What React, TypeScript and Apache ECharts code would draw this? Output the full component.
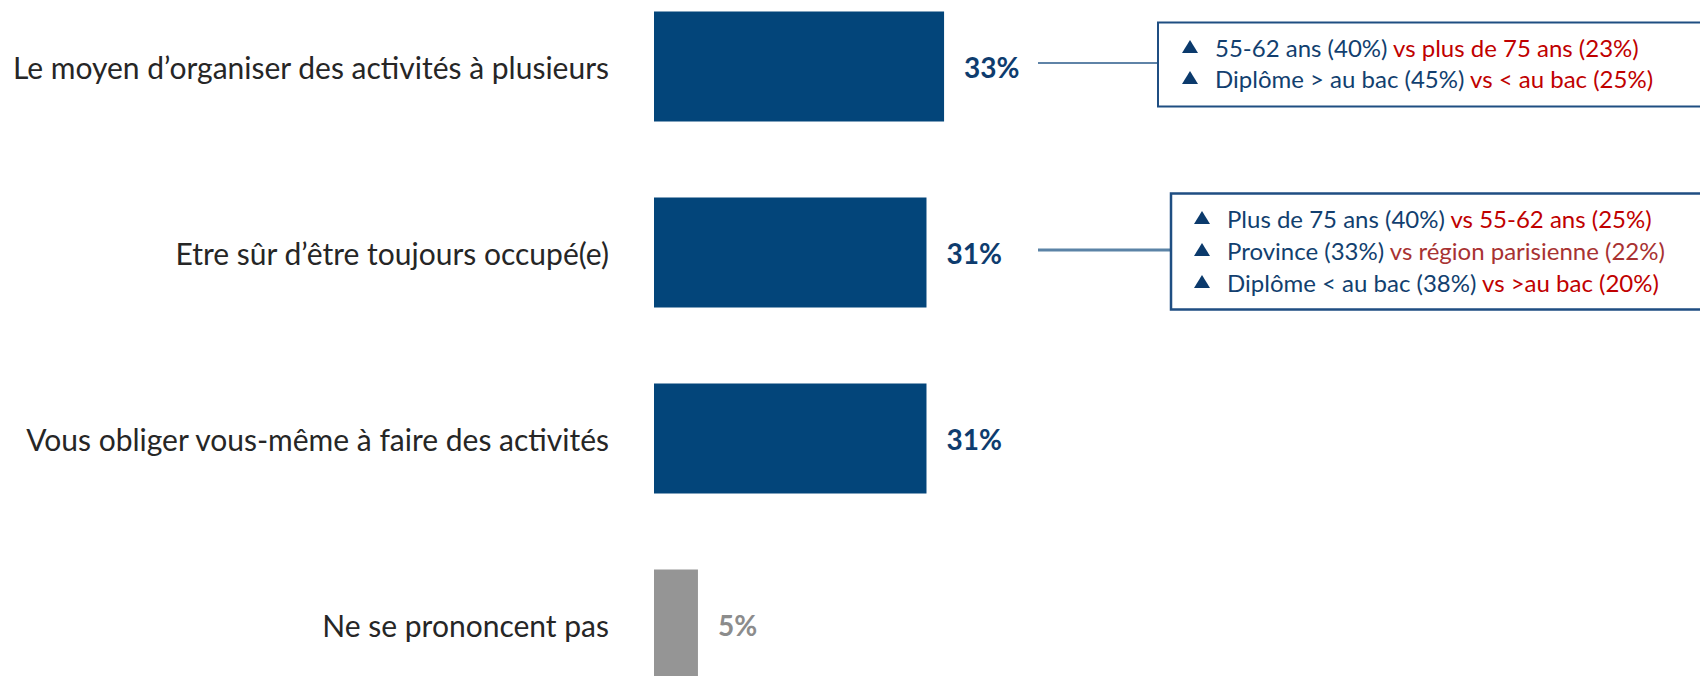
import React, { useEffect, useRef } from "react";
import * as echarts from "echarts";

const categories = [
  "Le moyen d’organiser des activités à plusieurs",
  "Etre sûr d’être toujours occupé(e)",
  "Vous obliger vous-même à faire des activités",
  "Ne se prononcent pas",
];
const values = [33, 31, 31, 5];
const isNsp = [false, false, false, true];

const callout1 = [
  { n: "55-62 ans (40%)", r: "vs plus de 75 ans (23%)", rs: "r" },
  { n: "Diplôme > au bac (45%)", r: "vs < au bac (25%)", rs: "r" },
];
const callout2 = [
  { n: "Plus de 75 ans (40%)", r: "vs 55-62 ans (25%)", rs: "r" },
  { n: "Province (33%)", r: "vs région parisienne (22%)", rs: "m" },
  { n: "Diplôme < au bac (38%)", r: "vs >au bac (20%)", rs: "r" },
];

const NAVY = "#03457a";
const GRAY = "#959595";
const TXT_NAVY = "#123f6f";
const FONT = "Lato";
const OFF = 40; // div is shifted up by this many px

export default function App() {
  const ref = useRef<HTMLDivElement>(null);
  useEffect(() => {
    document.body.style.margin = "0";
    const chart = echarts.init(ref.current!, null, { renderer: "svg" });

    const CF = 24;
    const rich = {
      n: { fill: TXT_NAVY, fontFamily: FONT, fontSize: CF },
      r: { fill: "#c00000", fontFamily: FONT, fontSize: CF },
      m: { fill: "#a83232", fontFamily: FONT, fontSize: CF },
    };

    const tri = (cx: number, cy: number) => ({
      type: "polygon",
      shape: { points: [[cx - 8, cy + 6], [cx + 8, cy + 6], [cx, cy - 7]] },
      style: { fill: "#0b3a6c" },
      z: 10,
    });

    const lines = (items: any[], triX: number, textX: number, y0: number, step: number) => {
      const out: any[] = [];
      items.forEach((it, i) => {
        const cy = y0 + i * step + OFF;
        out.push(tri(triX, cy));
        out.push({
          type: "text",
          x: textX,
          y: cy,
          z: 10,
          style: {
            text: `{n|${it.n}}{${it.rs}| ${it.r}}`,
            rich,
            verticalAlign: "middle",
            align: "left",
          },
        });
      });
      return out;
    };

    const graphic: any[] = [
      {
        type: "line",
        shape: { x1: 1038, y1: 63 + OFF, x2: 1158, y2: 63 + OFF },
        style: { stroke: "#2a5a8a", lineWidth: 1.5 },
      },
      {
        type: "rect",
        shape: { x: 1158, y: 22.5 + OFF, width: 600, height: 84 },
        style: { fill: "#fff", stroke: "#1f4e82", lineWidth: 2 },
        z: 5,
      },
      ...lines(callout1, 1190, 1215, 47, 31),
      {
        type: "line",
        shape: { x1: 1038, y1: 250 + OFF, x2: 1170, y2: 250 + OFF },
        style: { stroke: "#5b83a6", lineWidth: 3 },
      },
      {
        type: "rect",
        shape: { x: 1171, y: 193.5 + OFF, width: 600, height: 116 },
        style: { fill: "#fff", stroke: "#1f4e82", lineWidth: 2.5 },
        z: 5,
      },
      ...lines(callout2, 1202, 1227, 218, 32),
    ];

    chart.setOption({
      animation: false,
      grid: { left: 654, width: 879, top: -26.5 + OFF, height: 744 },
      xAxis: {
        type: "value",
        min: 0,
        max: 100,
        show: false,
        splitLine: { show: false },
      },
      yAxis: {
        type: "category",
        inverse: true,
        data: categories,
        axisLine: { show: false },
        axisTick: { show: false },
        axisLabel: {
          margin: 45,
          fontFamily: FONT,
          fontSize: 30,
          color: "#262626",
        },
      },
      series: [
        {
          type: "bar",
          barWidth: 110,
          data: values.map((v, i) => ({
            value: v,
            itemStyle: { color: isNsp[i] ? GRAY : NAVY },
            label: { color: isNsp[i] ? "#8c8c8c" : "#0e3c6e" },
          })),
          label: {
            show: true,
            position: "right",
            distance: 20,
            formatter: "{c}%",
            fontFamily: FONT,
            fontWeight: "bold",
            fontSize: 28,
          },
        },
      ],
      graphic,
    });
    return () => chart.dispose();
  }, []);
  return (
    <div
      ref={ref}
      style={{ position: "absolute", left: 0, top: -OFF, width: 1700, height: 800 }}
    />
  );
}
